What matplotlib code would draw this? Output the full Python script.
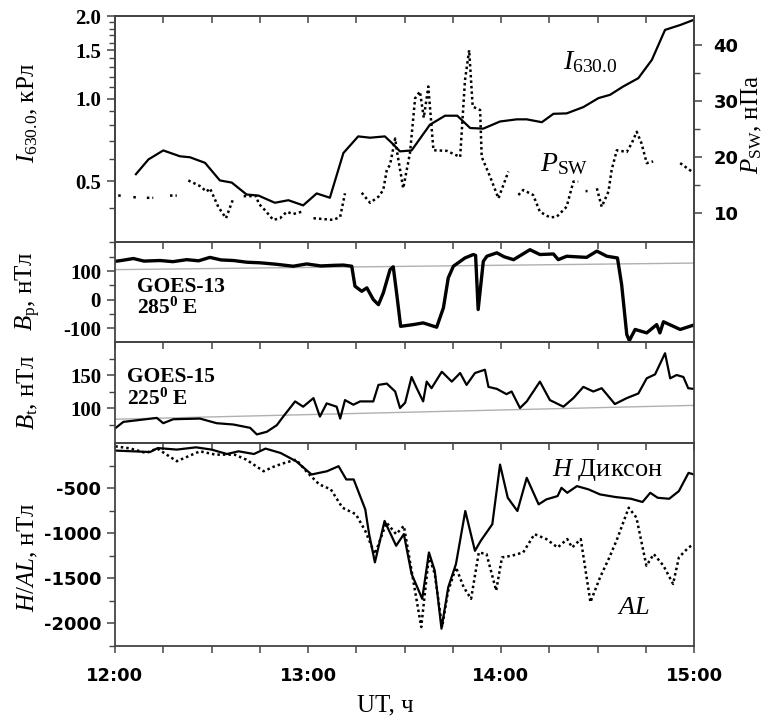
"""Stacked panels: I630.0 / Psw, GOES Bp, GOES Bt and H/AL, 12-15 UT."""

import matplotlib

matplotlib.use("Agg")
import matplotlib.pyplot as plt
import numpy as np

NAN = float("nan")

# times are minutes after 12:00 UT
I630_T = [6.5, 10.4, 15.0, 20.2, 23.3, 28.0, 32.6, 36.3, 40.9, 44.6, 49.7, 53.9,
          58.5, 62.7, 66.8, 71.0, 75.6, 79.3, 83.9, 86.0, 88.6, 92.2, 97.9, 102.6,
          106.4, 110.4, 114.5, 119.7, 124.9, 128.0, 132.7, 136.3, 140.4, 145.6,
          150.3, 153.9, 158.0, 162.7, 166.9, 171.0, 175.7, 179.8]
I630 = [0.53, 0.60, 0.647, 0.616, 0.611, 0.583, 0.503, 0.494, 0.447, 0.443, 0.417,
        0.426, 0.408, 0.451, 0.435, 0.633, 0.728, 0.72, 0.728, 0.69, 0.642, 0.647,
        0.803, 0.866, 0.866, 0.781, 0.777, 0.825, 0.84, 0.84, 0.82, 0.88, 0.883,
        0.931, 1.004, 1.032, 1.107, 1.187, 1.384, 1.78, 1.854, 1.934]

PSW_T = [1.0, 2.6, NAN, 5.7, 7.2, NAN, 9.9, 11.9, NAN, 17.1, 19.2, NAN,
         22.8, 26.4, 28.5, 29.5, 32.1, 34.5, 36.8, NAN,
         40.0, 44.0, 44.6, 46.6, 49.2, 51.3, 53.4, 55.4, 58.0, NAN,
         61.7, 67.9, 70.0, 71.5, NAN,
         76.7, 79.3, 81.9, 83.4, 84.5, 85.5, 87.1, 87.6, 89.6, 91.7, 93.3, 94.8,
         96.0, 97.4, 99.0, 103.1, 107.3, 108.8, 110.1, 111.2, 113.5, 114.0, 116.6,
         119.2, 122.3, NAN,
         125.4, 126.9, 130.0, 132.1, 135.2, 137.3, 140.4, 142.5, 144.0, NAN,
         146.3, 146.9, NAN,
         149.8, 151.3, 153.4, 154.4, 156.0, 159.1, 160.6, 162.2, 163.7, 165.3,
         167.3, NAN, 175.7, 179.3]
PSW = [13.1, 13.1, NAN, 12.8, 12.8, NAN, 12.7, 12.7, NAN, 13.1, 13.1, NAN,
       15.8, 14.8, 13.8, 14.4, 11.1, 9.05, 12.6, NAN,
       13.0, 13.0, 11.7, 10.5, 8.75, 9.05, 10.2, 9.8, 10.2, NAN,
       9.05, 8.75, 9.3, 13.5, NAN,
       13.6, 11.8, 12.9, 14.1, 17.7, 18.6, 23.3, 21.2, 14.4, 20.7, 30.5, 31.7,
       27.0, 32.6, 21.2, 21.1, 20.0, 33.7, 39.1, 29.0, 28.4, 20.0, 16.5,
       12.6, 17.4, NAN,
       13.2, 14.1, 13.2, 10.2, 9.2, 9.3, 11.1, 15.6, 15.6, NAN,
       13.9, 13.9, NAN,
       14.4, 11.1, 13.8, 17.7, 21.2, 20.9, 22.4, 24.5, 22.4, 18.9,
       19.2, NAN, 18.9, 17.4]

BP_T = [0.0, 2.5, 5.7, 9.0, 14.0, 18.0, 22.3, 26.0, 29.5, 33.0, 36.8, 41.0, 45.1,
        50.0, 55.4, 59.6, 64.0, 67.9, 71.0, 73.6, 74.6, 76.7, 78.3, 80.3, 81.9,
        83.4, 85.5, 86.5, 87.6, 88.8, 92.7, 95.8, 100.0, 102.1, 103.6, 105.2,
        108.8, 111.4, 112.1, 112.9, 113.8, 114.5, 115.6, 118.7, 121.0, 123.9,
        129.0, 132.1, 136.3, 137.8, 140.4, 146.6, 149.8, 152.9, 156.2, 157.5,
        159.1, 159.9, 161.7, 165.3, 168.4, 169.4, 170.5, 173.6, 175.7, 179.8]
BP = [134, 138, 144, 135, 137, 133, 140, 136, 148, 139, 137, 131, 129,
      124, 117, 125, 118, 120, 121, 117, 47, 29, 41, 0, -18,
      23, 105, 115, 18, -94, -88, -82, -97, -29, 76, 117,
      146, 158, 155, -35, 60, 134, 152, 164, 150, 140,
      175, 158, 160, 140, 152, 148, 170, 152, 146, 53,
      -123, -144, -105, -117, -88, -117, -78, -94, -105, -90]
BP_REF_T = [0.0, 180.0]
BP_REF = [105, 128]

BT_T = [0.0, 2.6, 7.8, 13.0, 15.0, 18.1, 26.4, 31.6, 36.8, 42.0, 44.1, 47.2, 50.3,
        52.3, 56.0, 58.5, 61.7, 63.7, 65.8, 68.9, 70.0, 71.5, 74.1, 76.2, 80.3,
        81.9, 84.5, 87.1, 88.6, 90.2, 92.2, 93.8, 95.8, 96.9, 98.4, 101.6, 104.7,
        107.3, 109.3, 111.9, 115.0, 116.1, 118.7, 121.7, 123.3, 125.9, 128.0,
        132.1, 135.2, 139.4, 142.5, 145.6, 148.7, 151.3, 155.4, 159.1, 162.7,
        165.3, 167.9, 171.0, 172.6, 174.6, 176.7, 178.2, 179.8]
BT = [69, 79, 82, 85, 77, 83, 84, 77, 75, 70, 60, 64, 74,
      87, 110, 102, 115, 87, 107, 102, 84, 112, 105, 110, 110,
      135, 137, 125, 100, 108, 147, 130, 110, 140, 130, 155, 140,
      153, 135, 153, 158, 132, 129, 121, 125, 100, 110,
      140, 112, 102, 115, 132, 125, 130, 106, 115, 122,
      145, 151, 183, 145, 150, 147, 130, 129]
BT_REF_T = [0.0, 180.0]
BT_REF = [83, 104]

H_T = [0.1, 10.9, 13.3, 19.2, 25.2, 30.0, 34.8, 38.4, 43.2, 46.8, 51.5, 56.3,
       61.1, 65.9, 69.5, 71.9, 74.2, 77.8, 79.0, 80.8, 83.8, 87.4, 89.8, 92.2,
       95.5, 97.6, 99.4, 101.5, 103.6, 106.0, 108.9, 111.9, 113.7, 117.3, 119.7,
       122.1, 125.1, 128.0, 131.7, 134.1, 137.6, 138.8, 140.6, 143.6, 147.2,
       150.8, 155.6, 160.4, 164.0, 166.4, 168.7, 172.3, 175.3, 178.3, 180.0]
H_DIKSON = [-84, -100, -56, -73, -48, -73, -122, -92, -122, -62, -111, -202,
            -349, -313, -257, -404, -404, -735, -1010, -1323, -864, -1139, -1010,
            -1451, -1727, -1213, -1415, -2058, -1599, -1341, -754, -1195, -1084,
            -900, -239, -607, -754, -386, -680, -625, -588, -497, -552, -478,
            -514, -570, -599, -618, -654, -552, -607, -618, -533, -331, -349]

AL_T = [0.1, 4.7, 9.7, 13.1, 19.2, 22.8, 26.4, 31.2, 37.2, 40.8, 46.2, 49.7,
        52.7, 56.3, 59.9, 63.5, 67.1, 70.7, 74.9, 77.8, 80.8, 84.4, 87.4, 89.8,
        92.2, 95.2, 97.6, 99.4, 101.7, 103.5, 106.0, 108.4, 110.7, 113.1, 115.5,
        118.5, 120.3, 123.3, 126.9, 130.4, 134.1, 137.6, 140.6, 142.1, 144.8,
        147.8, 150.8, 153.7, 156.1, 159.7, 162.1, 165.2, 167.5, 170.5, 173.5,
        175.3, 178.3, 180.0]
AL = [-37, -60, -111, -60, -202, -147, -92, -129, -129, -184, -313, -257,
      -221, -184, -331, -459, -514, -717, -790, -974, -1231, -882, -1010, -919,
      -1415, -2040, -1250, -1451, -2040, -1650, -1378, -1599, -1727, -1213,
      -1231, -1636, -1268, -1250, -1213, -1010, -1065, -1158, -1065, -1158,
      -1065, -1764, -1489, -1268, -1065, -717, -827, -1360, -1231, -1360,
      -1562, -1268, -1158, -1121]

HOUR_TICKS = [0, 60, 120, 180]
HOUR_LABELS = ["12:00", "13:00", "14:00", "15:00"]

W, H = 774, 722
LEFT, RIGHT = 115, 694
SERIF = "Liberation Serif"
SANS = "DejaVu Sans"
SPINE = "#444444"


def box(top, bottom):
    return [LEFT / W, (H - bottom) / H, (RIGHT - LEFT) / W, (bottom - top) / H]


def style(ax):
    ax.set_facecolor("none")
    for sp in ax.spines.values():
        sp.set_color(SPINE)
        sp.set_linewidth(1.3)
    ax.set_xlim(0, 180)
    ax.set_xticks(HOUR_TICKS)
    ax.set_xticks(np.arange(0, 181, 15), minor=True)
    ax.tick_params(axis="x", which="both", direction="out", bottom=True, top=False,
                   length=5, width=1.1, color=SPINE, labelbottom=False)
    ax.tick_params(axis="y", which="major", direction="out", length=6, width=1.1,
                   color=SPINE, pad=4)
    ax.tick_params(axis="y", which="minor", direction="out", length=4, width=1.0,
                   color=SPINE)


def main() -> None:
    plt.rcParams["mathtext.fontset"] = "custom"
    plt.rcParams["mathtext.rm"] = SERIF
    plt.rcParams["mathtext.it"] = SERIF + ":italic"
    plt.rcParams["mathtext.bf"] = SERIF + ":bold"

    fig = plt.figure(figsize=(W / 100, H / 100), dpi=100)
    ax1 = fig.add_axes(box(16, 242))
    ax2 = fig.add_axes(box(242, 342))
    ax3 = fig.add_axes(box(342, 443))
    ax4 = fig.add_axes(box(443, 646))
    for ax in (ax1, ax2, ax3, ax4):
        style(ax)

    serif_tick = dict(fontfamily=SERIF, fontweight="bold", fontsize=15)
    sans_tick = dict(fontfamily=SANS, fontweight="bold", fontsize=13)

    # panel 1: I630.0 (log) and solar wind pressure
    ax1.set_yscale("log")
    ax1.plot(I630_T, I630, color="black", lw=1.6)
    ax1.set_ylim(0.3, 2.0)
    ax1.set_yticks([0.5, 1.0, 1.5, 2.0], ["0.5", "1.0", "1.5", "2.0"], **serif_tick)
    minor = [v / 10 for v in range(3, 20) if v not in (5, 10, 15)]
    ax1.set_yticks(minor, [""] * len(minor), minor=True)
    top = ax1.secondary_xaxis("top")
    top.set_xticks(np.arange(0, 181, 15))
    top.tick_params(direction="in", length=5, width=1.1, color=SPINE, labeltop=False)
    top.spines["top"].set_color(SPINE)
    top.spines["top"].set_linewidth(1.3)

    axp = ax1.twinx()
    axp.set_facecolor("none")
    for sp in axp.spines.values():
        sp.set_color(SPINE)
        sp.set_linewidth(1.3)
    axp.plot(PSW_T, PSW, color="black", lw=1.8, ls=(0, (1, 1.2)))
    axp.set_ylim(4.8, 45.2)
    axp.set_yticks([10, 20, 30, 40], ["10", "20", "30", "40"], **sans_tick)
    axp.set_yticks([15, 25, 35], minor=True)
    axp.tick_params(axis="y", which="major", direction="out", length=6, width=1.1,
                    color=SPINE, pad=8)
    axp.tick_params(axis="y", which="minor", direction="out", length=4, width=1.0,
                    color=SPINE)
    ax1.text(0.82, 0.80, r"$I_{630.0}$", transform=ax1.transAxes, fontsize=20,
             ha="center", va="center")
    ax1.text(0.775, 0.35, r"$P_{\rm SW}$", transform=ax1.transAxes, fontsize=20,
             ha="center", va="center")

    # panel 2: GOES-13 Bp
    ax2.plot(BP_REF_T, BP_REF, color="#b0b0b0", lw=1.0)
    ax2.plot(BP_T, BP, color="black", lw=2.4)
    ax2.set_ylim(-149, 202)
    ax2.set_yticks([-100, 0, 100], ["-100", "0", "100"], **serif_tick)
    ax2.set_yticks([-50, 50, 150], minor=True)
    ax2.text(0.038, 0.55, "GOES-13", transform=ax2.transAxes, fontsize=15.5,
             fontfamily=SERIF, fontweight="bold", va="center")
    ax2.text(0.038, 0.34, r"285$^{\mathbf{0}}$ E", transform=ax2.transAxes,
             fontsize=15.5, fontfamily=SERIF, fontweight="bold", va="center")

    # panel 3: GOES-15 Bt
    ax3.plot(BT_REF_T, BT_REF, color="#b0b0b0", lw=1.0)
    ax3.plot(BT_T, BT, color="black", lw=1.6)
    ax3.set_ylim(47, 200)
    ax3.set_yticks([100, 150], ["100", "150"], **serif_tick)
    ax3.set_yticks([75, 125, 175], minor=True)
    ax3.text(0.021, 0.65, "GOES-15", transform=ax3.transAxes, fontsize=15.5,
             fontfamily=SERIF, fontweight="bold", va="center")
    ax3.text(0.021, 0.43, r"225$^{\mathbf{0}}$ E", transform=ax3.transAxes,
             fontsize=15.5, fontfamily=SERIF, fontweight="bold", va="center")

    # panel 4: H Dikson and AL
    ax4.plot(AL_T, AL, color="black", lw=1.8, ls=(0, (1, 1.2)))
    ax4.plot(H_T, H_DIKSON, color="black", lw=1.6)
    ax4.set_ylim(-2250, 0)
    ax4.set_yticks([-2000, -1500, -1000, -500],
                   ["-2000", "-1500", "-1000", "-500"], **sans_tick)
    ax4.set_yticks([-2250, -1750, -1250, -750, -250], minor=True)
    ax4.set_xticklabels(HOUR_LABELS, **sans_tick)
    ax4.tick_params(axis="x", labelbottom=True, pad=10)
    ax4.text(0.85, 0.865, r"$H$ Диксон", transform=ax4.transAxes, fontsize=19,
             fontfamily=SERIF, ha="center", va="center")
    ax4.text(0.895, 0.19, r"$AL$", transform=ax4.transAxes, fontsize=19,
             ha="center", va="center")

    # axis titles
    lab = dict(fontsize=18, fontfamily=SERIF, rotation=90, ha="center", va="center")
    fig.text(28 / W, 1 - 113 / H, r"$I_{630.0}$, кРл", **lab)
    fig.text(752 / W, 1 - 125 / H, r"$P_{\rm SW}$, нПа", **lab)
    fig.text(28 / W, 1 - 291 / H, r"$B_{\rm p}$, нТл", **lab)
    fig.text(28 / W, 1 - 392 / H, r"$B_{\rm t}$, нТл", **lab)
    fig.text(28 / W, 1 - 557 / H, r"$H/AL$, нТл", **lab)
    fig.text(385 / W, 1 - 705 / H, "UT, ч", fontsize=18, fontfamily=SERIF,
             ha="center", va="center")

    fig.savefig("out.png", dpi=100, facecolor="white")
    plt.close(fig)


if __name__ == "__main__":
    main()
